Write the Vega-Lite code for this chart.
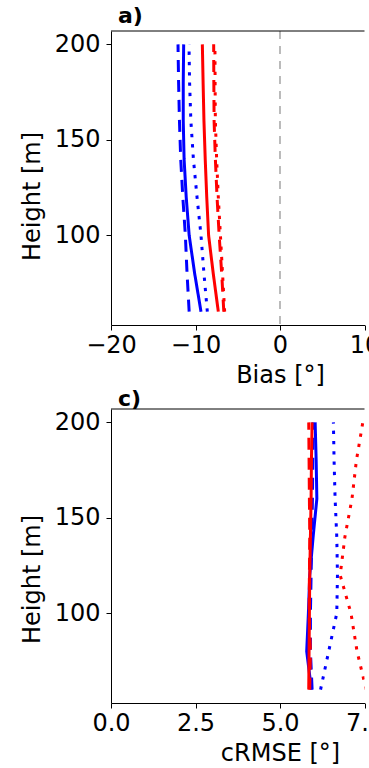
{
  "$schema": "https://vega.github.io/schema/vega-lite/v6.json",
  "padding": {"left": 20, "top": 5, "right": 0, "bottom": 0},
  "background": "white",
  "bounds": "flush",
  "spacing": 84,
  "datasets": {
    "bias": [
      {"group": "A", "kind": "solid", "h": 200, "v": -11.4},
      {"group": "A", "kind": "solid", "h": 180, "v": -11.45},
      {"group": "A", "kind": "solid", "h": 160, "v": -11.45},
      {"group": "A", "kind": "solid", "h": 140, "v": -11.35},
      {"group": "A", "kind": "solid", "h": 120, "v": -11.1},
      {"group": "A", "kind": "solid", "h": 100, "v": -10.75},
      {"group": "A", "kind": "solid", "h": 80, "v": -10.1},
      {"group": "A", "kind": "solid", "h": 60, "v": -9.35},
      {"group": "A", "kind": "dashed", "h": 200, "v": -12.07},
      {"group": "A", "kind": "dashed", "h": 180, "v": -12.0},
      {"group": "A", "kind": "dashed", "h": 160, "v": -11.9},
      {"group": "A", "kind": "dashed", "h": 140, "v": -11.75},
      {"group": "A", "kind": "dashed", "h": 120, "v": -11.5},
      {"group": "A", "kind": "dashed", "h": 100, "v": -11.2},
      {"group": "A", "kind": "dashed", "h": 80, "v": -11.0},
      {"group": "A", "kind": "dashed", "h": 60, "v": -10.75},
      {"group": "A", "kind": "dotted", "h": 200, "v": -10.77},
      {"group": "A", "kind": "dotted", "h": 180, "v": -10.7},
      {"group": "A", "kind": "dotted", "h": 160, "v": -10.55},
      {"group": "A", "kind": "dotted", "h": 140, "v": -10.25},
      {"group": "A", "kind": "dotted", "h": 120, "v": -9.82},
      {"group": "A", "kind": "dotted", "h": 100, "v": -9.35},
      {"group": "A", "kind": "dotted", "h": 80, "v": -9.0},
      {"group": "A", "kind": "dotted", "h": 60, "v": -8.6},
      {"group": "B", "kind": "solid", "h": 200, "v": -9.19},
      {"group": "B", "kind": "solid", "h": 180, "v": -9.1},
      {"group": "B", "kind": "solid", "h": 160, "v": -9.0},
      {"group": "B", "kind": "solid", "h": 140, "v": -8.85},
      {"group": "B", "kind": "solid", "h": 120, "v": -8.67},
      {"group": "B", "kind": "solid", "h": 100, "v": -8.45},
      {"group": "B", "kind": "solid", "h": 80, "v": -7.9},
      {"group": "B", "kind": "solid", "h": 60, "v": -7.3},
      {"group": "B", "kind": "dashed", "h": 200, "v": -7.85},
      {"group": "B", "kind": "dashed", "h": 180, "v": -7.83},
      {"group": "B", "kind": "dashed", "h": 160, "v": -7.8},
      {"group": "B", "kind": "dashed", "h": 140, "v": -7.65},
      {"group": "B", "kind": "dashed", "h": 120, "v": -7.45},
      {"group": "B", "kind": "dashed", "h": 100, "v": -7.2},
      {"group": "B", "kind": "dashed", "h": 80, "v": -6.9},
      {"group": "B", "kind": "dashed", "h": 60, "v": -6.65},
      {"group": "B", "kind": "dotted", "h": 200, "v": -7.7},
      {"group": "B", "kind": "dotted", "h": 180, "v": -7.68},
      {"group": "B", "kind": "dotted", "h": 160, "v": -7.65},
      {"group": "B", "kind": "dotted", "h": 140, "v": -7.5},
      {"group": "B", "kind": "dotted", "h": 120, "v": -7.3},
      {"group": "B", "kind": "dotted", "h": 100, "v": -7.05},
      {"group": "B", "kind": "dotted", "h": 80, "v": -6.8},
      {"group": "B", "kind": "dotted", "h": 60, "v": -6.55}
    ],
    "crmse": [
      {"group": "A", "kind": "solid", "h": 200, "v": 6.04},
      {"group": "A", "kind": "solid", "h": 180, "v": 6.07},
      {"group": "A", "kind": "solid", "h": 160, "v": 6.09},
      {"group": "A", "kind": "solid", "h": 140, "v": 5.98},
      {"group": "A", "kind": "solid", "h": 120, "v": 5.88},
      {"group": "A", "kind": "solid", "h": 100, "v": 5.84},
      {"group": "A", "kind": "solid", "h": 80, "v": 5.79},
      {"group": "A", "kind": "solid", "h": 60, "v": 5.93},
      {"group": "A", "kind": "dashed", "h": 200, "v": 5.98},
      {"group": "A", "kind": "dashed", "h": 180, "v": 5.97},
      {"group": "A", "kind": "dashed", "h": 160, "v": 5.96},
      {"group": "A", "kind": "dashed", "h": 140, "v": 5.94},
      {"group": "A", "kind": "dashed", "h": 120, "v": 5.92},
      {"group": "A", "kind": "dashed", "h": 100, "v": 5.9},
      {"group": "A", "kind": "dashed", "h": 80, "v": 5.9},
      {"group": "A", "kind": "dashed", "h": 60, "v": 5.95},
      {"group": "A", "kind": "dotted", "h": 200, "v": 6.58},
      {"group": "A", "kind": "dotted", "h": 180, "v": 6.6},
      {"group": "A", "kind": "dotted", "h": 160, "v": 6.63},
      {"group": "A", "kind": "dotted", "h": 140, "v": 6.68},
      {"group": "A", "kind": "dotted", "h": 120, "v": 6.7},
      {"group": "A", "kind": "dotted", "h": 100, "v": 6.68},
      {"group": "A", "kind": "dotted", "h": 80, "v": 6.44},
      {"group": "A", "kind": "dotted", "h": 60, "v": 6.2},
      {"group": "B", "kind": "solid", "h": 200, "v": 5.95},
      {"group": "B", "kind": "solid", "h": 180, "v": 5.93},
      {"group": "B", "kind": "solid", "h": 160, "v": 5.92},
      {"group": "B", "kind": "solid", "h": 140, "v": 5.9},
      {"group": "B", "kind": "solid", "h": 120, "v": 5.88},
      {"group": "B", "kind": "solid", "h": 100, "v": 5.87},
      {"group": "B", "kind": "solid", "h": 80, "v": 5.86},
      {"group": "B", "kind": "solid", "h": 60, "v": 5.85},
      {"group": "B", "kind": "dashed", "h": 200, "v": 5.85},
      {"group": "B", "kind": "dashed", "h": 180, "v": 5.86},
      {"group": "B", "kind": "dashed", "h": 160, "v": 5.87},
      {"group": "B", "kind": "dashed", "h": 140, "v": 5.88},
      {"group": "B", "kind": "dashed", "h": 120, "v": 5.87},
      {"group": "B", "kind": "dashed", "h": 100, "v": 5.86},
      {"group": "B", "kind": "dashed", "h": 80, "v": 5.9},
      {"group": "B", "kind": "dashed", "h": 60, "v": 5.88},
      {"group": "B", "kind": "dotted", "h": 200, "v": 7.45},
      {"group": "B", "kind": "dotted", "h": 180, "v": 7.26},
      {"group": "B", "kind": "dotted", "h": 160, "v": 7.13},
      {"group": "B", "kind": "dotted", "h": 140, "v": 6.92},
      {"group": "B", "kind": "dotted", "h": 120, "v": 6.78},
      {"group": "B", "kind": "dotted", "h": 100, "v": 7.1},
      {"group": "B", "kind": "dotted", "h": 80, "v": 7.28},
      {"group": "B", "kind": "dotted", "h": 60, "v": 7.55}
    ]
  },
  "vconcat": [
    {
      "width": 253.5,
      "height": 294,
      "title": {"text": "a)", "anchor": "start", "frame": "group", "fontSize": 22, "fontWeight": "bold", "font": "DejaVu Sans", "color": "black", "dx": 7, "offset": 2},
      "layer": [
        {
          "data": {"values": [{"zero": 0}]},
          "mark": {"type": "rule", "color": "#aaaaaa", "strokeWidth": 1.6, "strokeDash": [8, 7]},
          "encoding": {"x": {"field": "zero", "type": "quantitative", "scale": {"domain": [-20, 10], "nice": false, "zero": false}}}
        },
        {
          "data": {"values": [{"top": 207}]},
          "mark": {"type": "rule", "color": "black", "strokeWidth": 1},
          "encoding": {"y": {"field": "top", "type": "quantitative", "scale": {"domain": [53, 207], "nice": false, "zero": false}}}
        },
        {
          "data": {"name": "bias"},
          "mark": {"type": "line", "strokeWidth": 3, "strokeCap": "butt", "clip": true},
          "encoding": {
            "x": {"field": "v", "type": "quantitative", "scale": {"domain": [-20, 10], "nice": false, "zero": false},
              "axis": {"values": [-20, -10, 0, 10], "title": "Bias [°]", "titleX": 169, "titlePadding": 6, "labelPadding": 3, "format": "d"}},
            "y": {"field": "h", "type": "quantitative", "scale": {"domain": [53, 207], "nice": false, "zero": false},
              "axis": {"values": [100, 150, 200], "title": "Height [m]", "titleY": 165, "titlePadding": 10, "labelPadding": 6}},
            "color": {"field": "group", "type": "nominal", "scale": {"domain": ["A", "B"], "range": ["blue", "red"]}, "legend": null},
            "strokeDash": {"field": "kind", "type": "nominal", "scale": {"domain": ["solid", "dashed", "dotted"], "range": [[1, 0], [12, 8], [3.3, 7]]}, "legend": null},
            "order": {"field": "h", "type": "quantitative"}
          }
        }
      ]
    },
    {
      "width": 253.5,
      "height": 294,
      "title": {"text": "c)", "anchor": "start", "frame": "group", "fontSize": 22, "fontWeight": "bold", "font": "DejaVu Sans", "color": "black", "dx": 7, "offset": -2},
      "layer": [
        {
          "data": {"values": [{"top": 207}]},
          "mark": {"type": "rule", "color": "black", "strokeWidth": 1},
          "encoding": {"y": {"field": "top", "type": "quantitative", "scale": {"domain": [53, 207], "nice": false, "zero": false}}}
        },
        {
          "data": {"name": "crmse"},
          "mark": {"type": "line", "strokeWidth": 3, "strokeCap": "butt", "clip": true},
          "encoding": {
            "x": {"field": "v", "type": "quantitative", "scale": {"domain": [0, 7.5], "nice": false, "zero": false},
              "axis": {"values": [0, 2.5, 5, 7.5], "title": "cRMSE [°]", "titleX": 169, "titlePadding": 6, "labelPadding": 3, "format": ".1f"}},
            "y": {"field": "h", "type": "quantitative", "scale": {"domain": [53, 207], "nice": false, "zero": false},
              "axis": {"values": [100, 150, 200], "title": "Height [m]", "titleY": 170, "titlePadding": 10, "labelPadding": 6}},
            "color": {"field": "group", "type": "nominal", "scale": {"domain": ["A", "B"], "range": ["blue", "red"]}, "legend": null},
            "strokeDash": {"field": "kind", "type": "nominal", "scale": {"domain": ["solid", "dashed", "dotted"], "range": [[1, 0], [12, 8], [3.3, 7]]}, "legend": null},
            "order": {"field": "h", "type": "quantitative"}
          }
        }
      ]
    }
  ],
  "config": {
    "view": {"stroke": null},
    "font": "DejaVu Sans",
    "axis": {
      "grid": false,
      "labelFont": "DejaVu Sans",
      "labelFontSize": 24,
      "labelColor": "black",
      "titleFont": "DejaVu Sans",
      "titleFontSize": 24,
      "titleFontWeight": "normal",
      "titleColor": "black",
      "domainColor": "black",
      "domainWidth": 1,
      "tickColor": "black",
      "tickSize": 5,
      "tickWidth": 1,
      "labelOverlap": false,
      "labelFlush": false
    }
  }
}
